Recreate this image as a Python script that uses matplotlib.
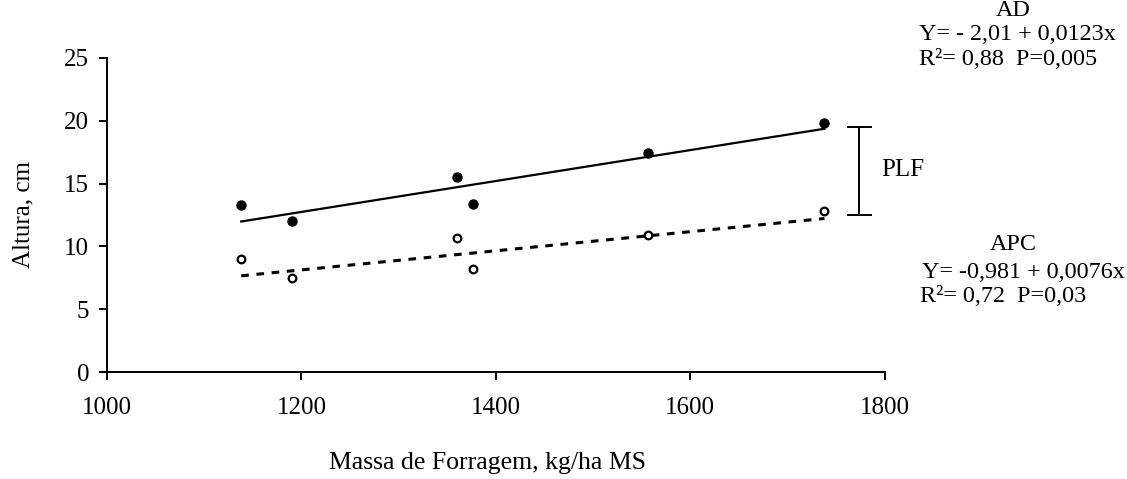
import numpy as np
import matplotlib.pyplot as plt

plt.rcParams['font.family'] = ['Liberation Serif', 'DejaVu Serif']

# dados
massa = [1138, 1190, 1360, 1376, 1556, 1738]
altura_ad = [13.3, 12.0, 15.5, 13.4, 17.4, 19.8]
altura_apc = [9.0, 7.5, 10.7, 8.2, 10.9, 12.8]

# coeficientes das regressoes
coef_ad = [-2.01, 0.0123]
coef_apc = [-0.981, 0.0076]

xticks = [1000, 1200, 1400, 1600, 1800]
yticks = [0, 5, 10, 15, 20, 25]

fs = 18
fs_eq = 17.4

fig = plt.figure(figsize=(11.27, 4.79), dpi=100)
ax = fig.add_axes([0.095, 0.223, 0.69, 0.656])

xr = np.array([min(massa), max(massa)])
ax.plot(xr, coef_ad[0] + coef_ad[1] * xr, color='black', lw=1.6)
ax.plot(xr, coef_apc[0] + coef_apc[1] * xr, color='black', lw=2.2,
        linestyle=(0, (2.5, 2.5)))

ax.plot(massa, altura_ad, 'o', color='black', ms=6.5)
ax.plot(massa, altura_apc, 'o', mfc='white', mec='black', mew=1.6, ms=5.5)

# barra PLF
ax.plot([1774, 1774], [12.5, 19.5], color='black', lw=1.4, clip_on=False)
ax.plot([1762, 1786], [19.5, 19.5], color='black', lw=1.4, clip_on=False)
ax.plot([1762, 1786], [12.5, 12.5], color='black', lw=1.4, clip_on=False)

ax.set_xlim(1000, 1800)
ax.set_ylim(0, 25)
ax.set_xticks(xticks)
ax.set_yticks(yticks)
ax.spines['top'].set_visible(False)
ax.spines['right'].set_visible(False)
ax.spines['left'].set_linewidth(1.4)
ax.spines['bottom'].set_linewidth(1.4)
ax.tick_params(direction='out', length=6, width=1.4, labelsize=fs)
ax.tick_params(axis='x', pad=12)
ax.tick_params(axis='y', pad=7)

fig.text(0.021, 0.553, 'Altura, cm', fontsize=fs, rotation=90,
         ha='center', va='center')
fig.text(0.4326, 0.033, 'Massa de Forragem, kg/ha MS', fontsize=18.5,
         ha='center', va='center')

fig.text(0.801, 0.645, 'PLF', fontsize=fs, ha='center', va='center')
fig.text(0.899, 0.979, 'AD', fontsize=fs_eq, ha='center', va='center')
fig.text(0.8155, 0.927, 'Y= - 2,01 + 0,0123x', fontsize=fs_eq, ha='left', va='center')
fig.text(0.8155, 0.875, 'R²= 0,88  P=0,005', fontsize=fs_eq, ha='left', va='center')
fig.text(0.899, 0.49, 'APC', fontsize=fs_eq, ha='center', va='center')
fig.text(0.8185, 0.432, 'Y= -0,981 + 0,0076x', fontsize=fs_eq, ha='left', va='center')
fig.text(0.8165, 0.38, 'R²= 0,72  P=0,03', fontsize=fs_eq, ha='left', va='center')

fig.savefig('out.png', dpi=100)
